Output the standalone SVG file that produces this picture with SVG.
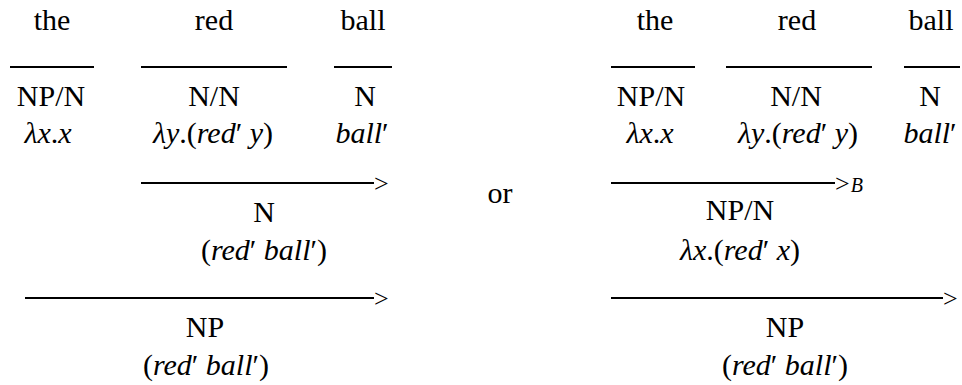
<svg xmlns="http://www.w3.org/2000/svg" width="962" height="385" viewBox="0 0 962 385">
<style>
text{font-family:'Liberation Serif','DejaVu Serif',serif;fill:#000}
.t{font-size:30px;text-anchor:middle}
.i{font-style:italic}
.ar{font-size:26px}
.sb{font-size:20px;font-style:italic}
.ln{stroke:#000;stroke-width:2;fill:none}
</style>
<rect width="962" height="385" fill="#fff"/>
<g id="connectors">
  <line class="ln" x1="10" y1="67" x2="94" y2="67"/>
  <line class="ln" x1="141" y1="67" x2="287" y2="67"/>
  <line class="ln" x1="334" y1="67" x2="392" y2="67"/>
  <line class="ln" x1="141" y1="183" x2="374" y2="183"/>
  <text class="ar" x="374" y="192">&gt;</text>
  <line class="ln" x1="25" y1="298" x2="374" y2="298"/>
  <text class="ar" x="374" y="307">&gt;</text>
  <line class="ln" x1="611" y1="67" x2="695" y2="67"/>
  <line class="ln" x1="726" y1="67" x2="872" y2="67"/>
  <line class="ln" x1="904" y1="67" x2="960" y2="67"/>
  <line class="ln" x1="611" y1="183" x2="835" y2="183"/>
  <text class="ar" x="835" y="192">&gt;<tspan class="sb" dx="1">B</tspan></text>
  <line class="ln" x1="611" y1="298" x2="943" y2="298"/>
  <text class="ar" x="943" y="307">&gt;</text>
</g>
<g id="left-the">
  <text class="t" x="52" y="30">the</text>
  <text class="t" x="51" y="106">NP/N</text>
  <text class="t" x="48" y="143"><tspan class="i">λx</tspan>.<tspan class="i">x</tspan></text>
</g>
<g id="left-red">
  <text class="t" x="214" y="30">red</text>
  <text class="t" x="214" y="106">N/N</text>
  <text class="t" x="213" y="143"><tspan class="i">λy</tspan>.(<tspan class="i">red</tspan>′ <tspan class="i">y</tspan>)</text>
</g>
<g id="left-ball">
  <text class="t" x="363" y="30">ball</text>
  <text class="t" x="365" y="106">N</text>
  <text class="t" x="362" y="143"><tspan class="i">ball</tspan>′</text>
</g>
<g id="left-N">
  <text class="t" x="264" y="222">N</text>
  <text class="t" x="264" y="260">(<tspan class="i">red</tspan>′ <tspan class="i">ball</tspan>′)</text>
</g>
<g id="left-NP">
  <text class="t" x="205" y="337">NP</text>
  <text class="t" x="206" y="375">(<tspan class="i">red</tspan>′ <tspan class="i">ball</tspan>′)</text>
</g>
<g id="or">
  <text class="t" x="500" y="203">or</text>
</g>
<g id="right-the">
  <text class="t" x="655" y="30">the</text>
  <text class="t" x="651" y="106">NP/N</text>
  <text class="t" x="650" y="143"><tspan class="i">λx</tspan>.<tspan class="i">x</tspan></text>
</g>
<g id="right-red">
  <text class="t" x="797" y="30">red</text>
  <text class="t" x="796" y="106">N/N</text>
  <text class="t" x="798" y="143"><tspan class="i">λy</tspan>.(<tspan class="i">red</tspan>′ <tspan class="i">y</tspan>)</text>
</g>
<g id="right-ball">
  <text class="t" x="931" y="30">ball</text>
  <text class="t" x="930" y="106">N</text>
  <text class="t" x="930" y="143"><tspan class="i">ball</tspan>′</text>
</g>
<g id="right-NPN">
  <text class="t" x="740" y="220">NP/N</text>
  <text class="t" x="740" y="260"><tspan class="i">λx</tspan>.(<tspan class="i">red</tspan>′ <tspan class="i">x</tspan>)</text>
</g>
<g id="right-NP">
  <text class="t" x="785" y="337">NP</text>
  <text class="t" x="785" y="375">(<tspan class="i">red</tspan>′ <tspan class="i">ball</tspan>′)</text>
</g>
</svg>
